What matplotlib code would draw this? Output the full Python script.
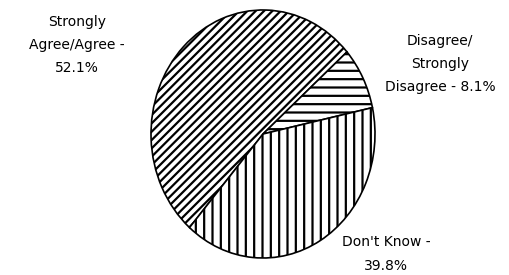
import matplotlib
matplotlib.use('Agg')
from matplotlib import pyplot as plt

labels = ['Strongly\nAgree/Agree -\n52.1%', 'Disagree/\nStrongly\nDisagree - 8.1%', "Don't Know -\n39.8%"]
values = [52.1, 8.1, 39.8]
hatches = ['////', '--', '||']

W, H = 509, 275
cx, cy = 263, 134      # pie centre in pixels
rx, ry = 112, 124      # pie radii in pixels

plt.rcParams['hatch.linewidth'] = 1.6
plt.rcParams['font.family'] = 'DejaVu Sans'

fig = plt.figure(figsize=(W / 100, H / 100), dpi=100)
ax = fig.add_axes([0, 0, 1, 1])

wedges, _ = ax.pie(values, startangle=229, counterclock=False,
                   colors=['white'] * 3,
                   wedgeprops=dict(edgecolor='black', linewidth=1.2))
for w, h in zip(wedges, hatches):
    w.set_hatch(h)

ax.set_aspect('auto')
ax.set_xlim(-cx / rx, (W - cx) / rx)
ax.set_ylim(-(H - cy) / ry, cy / ry)
ax.axis('off')

# label positions (pixel centres)
pos = [(77, 45), (440, 64), (386, 254)]
for lab, (px, py) in zip(labels, pos):
    fig.text(px / W, 1 - py / H, lab, ha='center', va='center',
             fontsize=10, linespacing=1.85)

fig.savefig('out.png', dpi=100)
